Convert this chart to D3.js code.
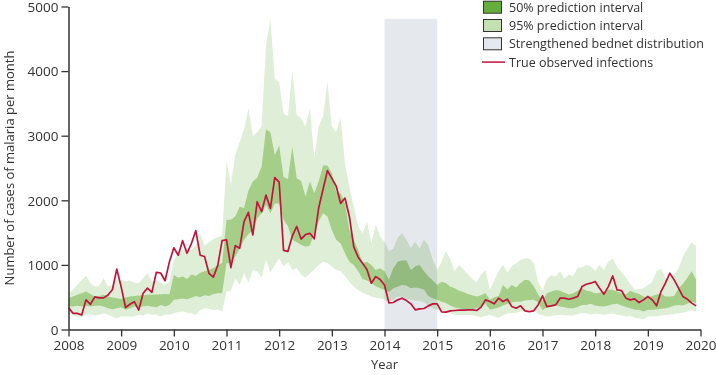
<!DOCTYPE html>
<html>
<head>
<meta charset="utf-8">
<script src="https://cdn.jsdelivr.net/npm/d3@7"></script>
<style>
  body { margin: 0; background: #fff; }
  svg text { font-family: "Open Sans", sans-serif; fill: #333; }
</style>
</head>
<body>
<svg id="chart" width="716" height="375"></svg>
<script>
// monthly values, Jan 2008 .. Dec 2019
var startYear = 2008;
var observed = [
  340, 250, 250, 225, 460, 390, 505, 490, 490, 535, 615, 935,
  660, 340, 390, 430, 300, 560, 640, 575, 885, 875, 755, 1050,
  1265, 1150, 1375, 1180, 1330, 1530, 1150, 1130, 870, 810, 990, 1375,
  1390, 958, 1298, 1258, 1669, 1814, 1463, 1978, 1823, 2081, 1876, 2350,
  2280, 1225, 1210, 1450, 1595, 1400, 1470, 1489, 1405, 1880, 2170, 2460,
  2339, 2218, 1953, 2035, 1746, 1278, 1120, 1026, 928, 717, 819, 775,
  690, 413, 418, 459, 485, 448, 397, 304, 320, 325, 366, 397,
  397, 273, 270, 289, 294, 300, 300, 304, 304, 294, 346, 459,
  433, 397, 485, 433, 469, 355, 330, 366, 289, 278, 289, 381,
  521, 355, 366, 381, 485, 485, 469, 485, 510, 664, 701, 717,
  742, 640, 547, 664, 830, 613, 603, 485, 459, 474, 417, 459,
  510, 459, 366, 587, 717, 871, 768, 640, 510, 469, 408, 366
];
var hi95 = [
  562, 613, 690, 768, 829, 716, 665, 675, 793, 665, 690, 768,
  768, 742, 757, 726, 716, 793, 871, 742, 757, 726, 690, 742,
  1077, 1180, 1230, 1260, 1230, 1300, 1480, 1300, 1350, 1400, 1430, 1450,
  2600, 2250, 2700, 2900, 3100, 3420, 3000, 3050, 3150, 4400, 4800, 3880,
  3830, 3340, 3300, 4010, 3320, 3270, 3140, 3420, 2650, 3140, 3300, 3830,
  3140, 3060, 3270, 2570, 2210, 1900, 1600, 1490, 1670, 1330, 1620, 1440,
  1360, 1210, 1250, 1420, 1490, 1390, 1260, 1360, 1250, 1390, 1300, 1080,
  920, 1050, 1210, 1080, 900, 1000, 930, 850, 780, 730, 850, 920,
  620, 760, 900, 1000, 880, 980, 1020, 1080, 1100, 1100, 1030, 730,
  600, 780, 840, 820, 900, 790, 850, 820, 960, 960, 1000, 980,
  900, 1000, 920, 1050, 1100, 970, 890, 800, 700, 620, 625, 640,
  690, 740, 900, 940, 800, 830, 850, 950, 1130, 1250, 1350, 1290
];
var hi50 = [
  484, 510, 536, 562, 587, 551, 510, 520, 536, 510, 494, 484,
  474, 494, 510, 520, 525, 531, 536, 536, 541, 546, 551, 546,
  845, 800, 820, 780, 850, 830, 880, 900, 920, 950, 1000, 1030,
  1695, 1700, 1750, 1900, 1880, 2150, 2290, 2350, 2520, 3100, 3050, 2700,
  2850, 2360, 2330, 2830, 2340, 2300, 2060, 2290, 2110, 2290, 2540, 2540,
  2420, 2130, 2110, 1950, 1540, 1390, 1230, 1030, 1050, 1000, 920, 950,
  900, 770, 950, 1050, 1070, 1070, 920, 980, 1000, 900, 820, 760,
  690, 740, 720, 660, 640, 600, 580, 550, 530, 510, 530, 560,
  460, 500, 520, 690, 620, 690, 650, 720, 770, 760, 670, 540,
  440, 560, 590, 610, 600, 570, 540, 560, 600, 640, 600, 590,
  560, 570, 580, 620, 610, 590, 560, 540, 600, 570, 550, 510,
  490, 520, 540, 560, 510, 510, 520, 640, 710, 800, 900, 770
];
var lo50 = [
  355, 355, 366, 355, 366, 355, 366, 371, 355, 330, 314, 330,
  345, 304, 330, 355, 345, 355, 366, 355, 345, 380, 355, 381,
  460, 470, 480, 470, 490, 520, 500, 530, 520, 550, 560, 560,
  1025, 1030, 1130, 1250, 1390, 1480, 1540, 1720, 1800, 1930, 1800, 1950,
  1950, 1700, 1600, 1390, 1350, 1310, 1280, 1300, 1490, 1670, 1800, 1750,
  1540, 1390, 1330, 1180, 1050, 1000, 900, 780, 760, 720, 670, 640,
  610, 580, 640, 660, 690, 680, 640, 650, 640, 620, 520, 480,
  460, 430, 410, 370, 340, 330, 310, 305, 310, 330, 360, 400,
  310, 320, 340, 370, 400, 420, 430, 430, 450, 455, 460, 420,
  300, 340, 360, 370, 355, 345, 330, 330, 350, 380, 380, 400,
  370, 360, 355, 370, 390, 400, 370, 350, 330, 310, 300, 280,
  300, 305, 310, 320, 330, 345, 370, 380, 370, 400, 430, 410
];
var lo95 = [
  242, 227, 201, 191, 227, 237, 211, 227, 252, 227, 201, 175,
  201, 201, 201, 201, 227, 211, 252, 227, 227, 201, 227, 227,
  250, 270, 280, 260, 250, 230, 300, 330, 320, 300, 310, 280,
  590, 600, 790, 690, 870, 720, 920, 900, 800, 1080, 880, 1000,
  1100, 980, 1050, 920, 950, 850, 800, 870, 930, 1000, 1050, 1030,
  970, 920, 900, 830, 740, 660, 610, 570, 540, 510, 490, 480,
  460, 430, 460, 510, 500, 480, 460, 450, 440, 420, 360, 330,
  300, 290, 270, 250, 230, 225, 225, 225, 220, 210, 190, 210,
  230, 200, 180, 220, 250, 250, 260, 280, 290, 300, 290, 240,
  220, 200, 210, 225, 225, 220, 215, 215, 240, 255, 250, 230,
  250, 240, 230, 240, 250, 230, 220, 200, 210, 180, 170, 160,
  200, 200, 200, 215, 225, 230, 245, 250, 260, 280, 300, 280
];
var bednetPeriod = [2014, 2015];
var bednetTop = 4810;
var xTicks = [2008, 2009, 2010, 2011, 2012, 2013, 2014, 2015, 2016, 2017, 2018, 2019, 2020];
var yTicks = [0, 1000, 2000, 3000, 4000, 5000];
var legendLabels = ["50% prediction interval", "95% prediction interval",
                    "Strengthened bednet distribution", "True observed infections"];

var dimensions = {
    width: 716,
    height: 375,
    margin: { top: 6.5, bottom: 45.5, left: 68.5, right: 15.5 }
}

var svg = d3.select("#chart");

var data = observed.map(function(v, i){
    return { t: startYear + i / 12, obs: v,
             lo95: lo95[i], hi95: hi95[i], lo50: lo50[i], hi50: hi50[i] };
});

var xScale = d3.scaleLinear()
               .domain([2008, 2020])
               .range([dimensions.margin.left, dimensions.width - dimensions.margin.right]);

var yScale = d3.scaleLinear()
               .domain([0, 5000])
               .range([dimensions.height - dimensions.margin.bottom, dimensions.margin.top]);

// bednet period
svg.append("rect")
   .attr("x", xScale(bednetPeriod[0]))
   .attr("y", yScale(bednetTop))
   .attr("width", xScale(bednetPeriod[1]) - xScale(bednetPeriod[0]))
   .attr("height", yScale(0) - yScale(bednetTop))
   .style("fill", "#e5e8ec");

// prediction bands
var bands = svg.append("g").style("mix-blend-mode", "multiply");

var area95 = d3.area()
               .x(function(d){ return xScale(d.t) })
               .y0(function(d){ return yScale(d.lo95) })
               .y1(function(d){ return yScale(d.hi95) });
var area50 = d3.area()
               .x(function(d){ return xScale(d.t) })
               .y0(function(d){ return yScale(d.lo50) })
               .y1(function(d){ return yScale(d.hi50) });

bands.append("path").datum(data).attr("d", area95).style("fill", "#dfeed6");
bands.append("path").datum(data).attr("d", area50).style("fill", "#a5ce89");

// observed line
var line = d3.line()
             .x(function(d){ return xScale(d.t) })
             .y(function(d){ return yScale(d.obs) });

svg.append("path")
   .datum(data)
   .attr("d", line)
   .style("fill", "none")
   .style("stroke", "#c0143c")
   .style("stroke-width", 1.7)
   .style("stroke-linejoin", "round");

// axes
var xAxisGen = d3.axisBottom(xScale).tickValues(xTicks).tickFormat(d3.format("d"))
                 .tickSize(7).tickSizeOuter(0).tickPadding(4);
var xAxis = svg.append("g")
               .attr("transform", "translate(0," + yScale(0) + ")")
               .call(xAxisGen);

var yAxisGen = d3.axisLeft(yScale).tickValues(yTicks).tickFormat(d3.format("d"))
                 .tickSize(7).tickSizeOuter(0).tickPadding(3);
var yAxis = svg.append("g")
               .attr("transform", "translate(" + xScale(2008) + ",0)")
               .call(yAxisGen);

[xAxis, yAxis].forEach(function(ax){
    ax.select(".domain").style("stroke", "#333").style("stroke-width", 1.5);
    ax.selectAll(".tick line").style("stroke", "#333").style("stroke-width", 1.3);
    ax.selectAll("text").style("font-size", "13.5px").style("fill", "#333")
      .style("font-family", "'Open Sans', sans-serif");
});
yAxis.selectAll(".tick text").attr("dy", "0.36em");

svg.append("text")
   .attr("x", (xScale(2008) + xScale(2020)) / 2)
   .attr("y", 369)
   .attr("text-anchor", "middle")
   .style("font-size", "13px")
   .text("Year");

svg.append("text")
   .attr("transform", "rotate(-90)")
   .attr("x", -168)
   .attr("y", 14)
   .attr("text-anchor", "middle")
   .style("font-size", "13px")
   .text("Number of cases of malaria per month");

// legend
var legendFills = ["#65ae3c", "#c6e1b1", "#e5e8ec"];
var legend = svg.append("g");
legendLabels.forEach(function(label, i){
    var cy = 7.2 + i * 18.3;
    if (i < 3) {
        legend.append("rect")
              .attr("x", 483.5).attr("y", cy - 6)
              .attr("width", 18).attr("height", 12)
              .style("fill", legendFills[i])
              .style("stroke", "#333").style("stroke-width", 1);
    } else {
        legend.append("line")
              .attr("x1", 482).attr("x2", 505)
              .attr("y1", cy).attr("y2", cy)
              .style("stroke", "#c0143c").style("stroke-width", 1.5);
    }
    legend.append("text")
          .attr("x", 509).attr("y", cy)
          .attr("dy", "0.36em")
          .style("font-size", "12.5px")
          .text(label);
});
</script>
</body>
</html>
